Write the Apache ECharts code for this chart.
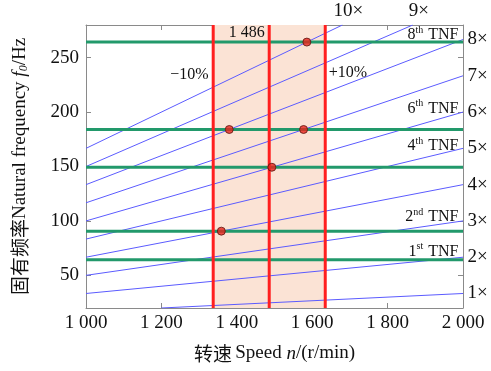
<!DOCTYPE html>
<html>
<head>
<meta charset="utf-8">
<script src="https://cdn.jsdelivr.net/npm/echarts@6/dist/echarts.min.js"></script>
<style>html,body{margin:0;padding:0;background:#fff}#c{width:491px;height:371px}</style>
</head>
<body>
<div id="c"></div>
<script>
const orders = [1, 2, 3, 4, 5, 6, 7, 8, 9, 10];
const tnfNames = ['1st', '2nd', '4th', '6th', '8th'];
const tnfValues = [64.4, 90.6, 149.3, 184, 264.3];
const ratedSpeed = 1486;
const speedMargin = 0.1;
const resonances = [['2nd', 4], ['4th', 6], ['6th', 8], ['6th', 7], ['8th', 10]];
const xTicks = [1000, 1200, 1400, 1600, 1800, 2000];
const yTicks = [50, 100, 150, 200, 250];
const xMin = 1000, xMax = 2000, yMin = 20, yMax = 280;

const FONT = "'Liberation Serif', 'Noto Sans CJK SC', serif";
const chart = echarts.init(document.getElementById('c'));

const fmtNum = v => String(v).replace(/(\d)(\d{3})$/, '$1 $2');
const hidden = { color: 'transparent', borderColor: 'transparent', borderWidth: 0 };

const series = [];

const lo = ratedSpeed * (1 - speedMargin), hi = ratedSpeed * (1 + speedMargin);
series.push({
  type: 'line', data: [], silent: true,
  markArea: { silent: true, itemStyle: { color: '#fbe3d5' }, data: [[{ xAxis: lo }, { xAxis: hi }]] }
});

// order lines
orders.forEach(k => {
  const nStart = Math.max(xMin, yMin * 60 / k);
  const nEnd = Math.min(xMax, yMax * 60 / k);
  const atTop = nEnd < xMax;
  series.push({
    type: 'line', silent: true, symbol: 'circle', symbolSize: 1, showSymbol: true, z: 3,
    itemStyle: hidden,
    lineStyle: { color: '#5b5bff', width: 1 },
    data: [
      [nStart, k * nStart / 60],
      { value: [nEnd, k * nEnd / 60],
        label: { show: true, formatter: k + '×', position: atTop ? 'top' : 'right',
                 distance: 4, offset: atTop ? [6, 0] : [0, 0],
                 fontSize: 19, color: '#111', fontFamily: FONT } }
    ]
  });
});

// TNF lines
const tnfLabelDy = { '1st': 9, '2nd': 15, '4th': 22, '6th': 22, '8th': 8 };
tnfNames.forEach((name, i) => {
  const v = tnfValues[i];
  const m = name.match(/^(\d+)(\D+)$/);
  series.push({
    type: 'line', silent: true, symbol: 'circle', symbolSize: 1, showSymbol: true, z: 4,
    itemStyle: hidden,
    lineStyle: { color: '#22996b', width: 3 },
    data: [
      [xMin, v],
      { value: [xMax, v],
        label: { show: true, position: 'left', distance: 4, offset: [0, -tnfLabelDy[name]],
                 formatter: '{n|' + m[1] + '}{s|' + m[2] + '}{n| TNF}',
                 rich: { n: { fontSize: 16, color: '#111', fontFamily: FONT, verticalAlign: 'bottom', lineHeight: 18 },
                         s: { fontSize: 10, color: '#111', fontFamily: FONT, verticalAlign: 'top', lineHeight: 18, padding: [0, 1, 0, 0] } } } }
    ]
  });
});

// red vertical lines
const redLines = [
  { n: lo, text: '−10%', dy: 50 },
  { n: ratedSpeed, text: fmtNum(ratedSpeed), dy: 8 },
  { n: hi, text: '+10%', dy: 48, right: true }
];
redLines.forEach(r => {
  series.push({
    type: 'line', silent: true, symbol: 'circle', symbolSize: 1, showSymbol: true, z: 5,
    itemStyle: hidden,
    lineStyle: { color: '#ff1f1f', width: 3 },
    data: [
      [r.n, yMin],
      { value: [r.n, yMax],
        label: { show: true, formatter: r.text, position: r.right ? 'right' : 'left',
                 distance: r.right ? 3 : 4, offset: [0, r.dy],
                 fontSize: 16, color: '#111', fontFamily: FONT } }
    ]
  });
});

// resonance points
const resData = resonances.map(([name, k]) => {
  const f = tnfValues[tnfNames.indexOf(name)];
  return [60 * f / k, f];
});
series.push({
  type: 'scatter', silent: true, z: 10, symbolSize: 8, data: resData,
  itemStyle: { color: '#e8231b', borderColor: '#5a1510', borderWidth: 1 }
});

const axisLineStyle = { lineStyle: { color: '#8a8a8a', width: 1 } };
const tickStyle = { show: true, inside: true, length: 5, lineStyle: { color: '#8a8a8a' } };

chart.setOption({
  animation: false,
  grid: { left: 86, right: 28, top: 25, bottom: 63 },
  xAxis: [
    { type: 'value', min: xMin, max: xMax, interval: 200, position: 'bottom',
      axisLine: axisLineStyle, axisTick: tickStyle, splitLine: { show: false },
      axisLabel: { fontSize: 19, color: '#111', fontFamily: FONT, margin: 6, formatter: fmtNum },
      name: '{c|转速} {t|Speed }{i|n}{t|/(r/min)}', nameLocation: 'middle', nameGap: 36,
      nameTextStyle: { rich: {
        c: { fontSize: 19, fontFamily: "'Noto Sans CJK SC', sans-serif", color: '#111' },
        t: { fontSize: 19, fontFamily: FONT, color: '#111' },
        i: { fontSize: 19, fontFamily: FONT, fontStyle: 'italic', color: '#111' } } } },
    { type: 'value', min: xMin, max: xMax, interval: 200, position: 'top',
      axisLine: axisLineStyle, axisTick: tickStyle, axisLabel: { show: false }, splitLine: { show: false } }
  ],
  yAxis: [
    { type: 'value', min: yMin, max: yMax, position: 'left',
      axisLine: { show: true, ...axisLineStyle }, splitLine: { show: false },
      axisTick: { ...tickStyle, customValues: yTicks },
      axisLabel: { fontSize: 19, color: '#111', fontFamily: FONT, margin: 7, customValues: yTicks },
      name: '{c|固有频率}{t|Natural frequency }{i|f}{s|0}{t|/Hz}', nameLocation: 'middle', nameGap: 56, nameRotate: 90,
      nameTextStyle: { rich: {
        c: { fontSize: 19, fontFamily: "'Noto Sans CJK SC', sans-serif", color: '#111' },
        t: { fontSize: 19, fontFamily: FONT, color: '#111' },
        i: { fontSize: 19, fontFamily: FONT, fontStyle: 'italic', color: '#111' },
        s: { fontSize: 12, fontFamily: FONT, fontStyle: 'italic', color: '#111', verticalAlign: 'bottom', padding: [8, 0, 0, 0] } } } },
    { type: 'value', min: yMin, max: yMax, position: 'right',
      axisLine: { show: true, ...axisLineStyle }, splitLine: { show: false },
      axisTick: { ...tickStyle, customValues: yTicks },
      axisLabel: { show: false, customValues: yTicks } }
  ],
  series: series
});
</script>
</body>
</html>
